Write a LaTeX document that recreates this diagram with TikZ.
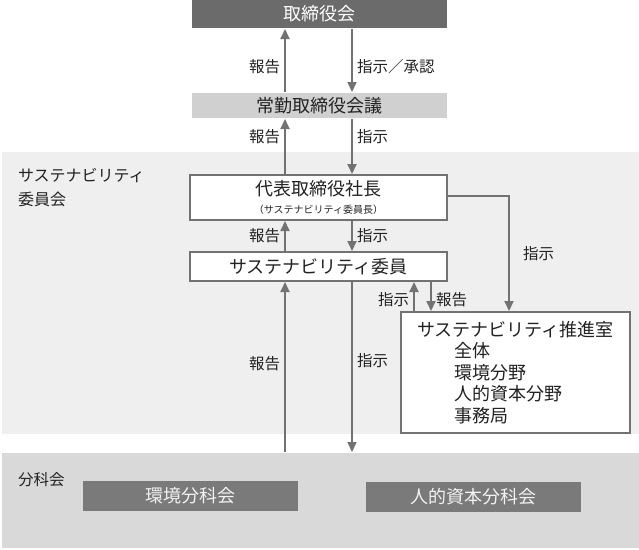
\documentclass[tikz,border=0pt]{standalone}
\usepackage{fontspec}
\newfontfamily\cjk{Noto Sans CJK JP}
\usetikzlibrary{arrows.meta}
\definecolor{boxline}{HTML}{727272}
\definecolor{darkfill}{HTML}{6B6B6B}
\definecolor{midfill}{HTML}{7A7A7A}
\definecolor{palefill}{HTML}{D0D0D0}
\definecolor{areafill}{HTML}{EFEFEF}
\definecolor{lowfill}{HTML}{D9D9D9}
\definecolor{ink}{HTML}{222222}

\begin{document}
\begin{tikzpicture}[x=1pt,y=-1pt,->,>={Triangle[length=10pt,width=9pt]},line width=2pt,
    area/.style={fill=#1,draw=none,inner sep=0pt},
    box font/.style={font=\cjk\fontsize{18}{21.5}\selectfont},
    dark box/.style={box font,fill=darkfill,text=white,inner sep=0pt,minimum width=255pt},
    pale box/.style={box font,fill=palefill,text=ink,inner sep=0pt,minimum width=255pt},
    main node/.style={box font,draw=boxline,fill=white,text=ink,line width=2pt,inner sep=0pt},
    sub box/.style={box font,fill=midfill,text=black!5,inner sep=0pt,minimum width=215pt,minimum height=30pt},
    lab/.style={text=ink,font=\cjk\fontsize{15.5}{18}\selectfont,inner sep=1pt}]

  \useasboundingbox (0,0) rectangle (639,549);

  % areas
  \node[area=areafill,minimum width=637pt,minimum height=282pt] (iinkai) at (320,293) {};
  \node[area=lowfill,minimum width=637pt,minimum height=95pt] (bunka) at (320,500.5) {};
  \node[lab,anchor=north west,align=left,font=\cjk\fontsize{16}{24}\selectfont] (iinkai label) at (16,166) {サステナビリティ\\委員会};
  \node[lab,anchor=west] (bunka label) at (16,480) {分科会};

  % boxes
  \node[dark box,minimum height=28pt] (board) at (319.5,14) {取締役会};
  \node[pale box,minimum height=25pt] (jokin) at (319.5,105.5) {常勤取締役会議};
  \node[main node,minimum width=257pt,minimum height=45pt,align=center] (ceo) at (318.5,197.5)
    {代表取締役社長\\[-4pt]{\fontsize{10}{11}\selectfont （サステナビリティ委員長）}};
  \node[main node,minimum width=257pt,minimum height=29pt] (member) at (318.5,266.5) {サステナビリティ委員};
  \node[main node,minimum width=229pt,minimum height=121pt,align=left] (office) at (515.5,372.5)
    {サステナビリティ推進室\\\hspace*{37pt}全体\\\hspace*{37pt}環境分野\\\hspace*{37pt}人的資本分野\\\hspace*{37pt}事務局};
  \node[sub box] (env) at (190.5,496) {環境分科会};
  \node[sub box] (hr) at (473.5,496.5) {人的資本分科会};

  \coordinate (up) at (285,0);
  \coordinate (down) at (352,0);
  \coordinate (up2) at (414,0);
  \coordinate (down2) at (431,0);
  \coordinate (side) at (509,0);

  \path[color=boxline,every node/.style={lab}]
    (jokin.north -| up) edge node[pos=0.4,left=3pt] {報告} (board.south -| up)
    (board.south -| down) edge node[pos=0.6,right=3pt] {指示／承認} (jokin.north -| down)

    (ceo.north -| up) edge node[pos=0.68,left=3pt] {報告} (jokin.south -| up)
    (jokin.south -| down) edge node[pos=0.32,right=3pt] {指示} (ceo.north -| down)

    (member.north -| up) edge node[pos=0.5,left=3pt] {報告} (ceo.south -| up)
    (ceo.south -| down) edge node[pos=0.5,right=3pt] {指示} (member.north -| down)

    (office.north -| up2) edge node[pos=0.4,left=3pt] {指示} (member.south -| up2)
    (member.south -| down2) edge node[pos=0.6,right=3pt] {報告} (office.north -| down2)

    (bunka.north -| up) edge node[pos=0.52,left=3pt] {報告} (member.south -| up)
    (member.south -| down) edge node[pos=0.46,right=3pt] {指示} (bunka.north -| down)
;
  \draw[color=boxline] (ceo.east |- 0,196) -| node[pos=0.75,right=12pt,lab] {指示} (office.north -| side);
\end{tikzpicture}
\end{document}
